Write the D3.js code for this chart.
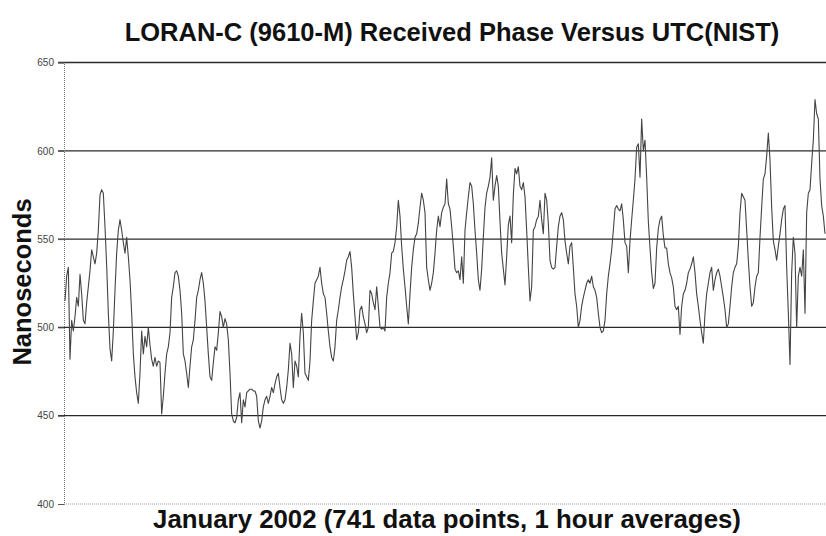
<!DOCTYPE html>
<html>
<head>
<meta charset="utf-8">
<script src="https://cdn.jsdelivr.net/npm/d3@7"></script>
<style>
  body { margin: 0; background: #fff; }
  svg { display: block; font-family: "Liberation Sans", Arial, sans-serif; }
</style>
</head>
<body>
<div id="chart"></div>
<script>
const chartTitle = 'LORAN-C (9610-M) Received Phase Versus UTC(NIST)';
const xTitle = 'January 2002 (741 data points, 1 hour averages)';
const yTitle = 'Nanoseconds';
const yTicks = [400, 450, 500, 550, 600, 650];

// received phase, ns (evenly spaced through the month)
const phase = [
  515, 529, 534, 482, 504, 498, 506, 517, 512, 530, 519, 504, 502, 514, 523, 532, 544, 540, 536, 542,
  555, 575, 578, 576, 557, 535, 508, 488, 481, 498, 521, 542, 555, 561, 555, 548, 542, 551, 540, 527,
  508, 485, 472, 463, 457, 474, 498, 485, 495, 489, 500, 490, 482, 478, 483, 478, 481, 480, 451, 461,
  474, 485, 489, 497, 517, 523, 531, 532, 529, 521, 508, 485, 481, 474, 466, 478, 489, 493, 504, 517,
  521, 527, 531, 525, 515, 500, 485, 472, 470, 480, 489, 487,
  497, 509, 506, 500, 505, 502, 493, 474, 451, 447, 446, 449, 459, 463, 446, 459, 455, 463, 464, 465,
  465, 464, 464, 461, 447, 443, 447, 455, 459, 461, 457, 461, 466, 463, 468, 472, 474, 466, 459, 457,
  459, 466, 476, 491, 485, 466, 481, 478, 472, 495, 508, 497, 474, 472, 470, 481, 504, 515, 525, 527,
  529, 534, 525, 519, 517, 508, 498, 489, 483, 481, 489, 504, 510, 517, 523, 527, 532, 538, 540, 543,
  534, 519, 506, 493, 497, 510, 512, 506, 502, 497, 500,
  521, 519, 514, 510, 523, 512, 500, 499, 500, 498, 517, 525, 531, 542, 543, 548, 557, 572, 563, 546,
  533, 523, 512, 502, 519, 534, 544, 551, 553, 559, 568, 576, 572, 565, 534, 527, 521, 525, 531, 542,
  555, 563, 557, 565, 568, 570, 584, 570, 567, 557, 546, 533, 531, 532, 527, 540, 525, 555, 565, 574,
  582, 580, 570, 555, 542, 527, 521, 533, 551, 568, 576, 580, 585, 596, 572, 580, 586, 580, 560, 542,
  533, 524, 540, 558, 563, 548, 575, 590, 587, 591, 580,
  578, 582, 574, 555, 534, 515, 523, 555, 557, 561, 563, 572, 561, 553, 576, 572, 559, 538, 534, 533,
  534, 546, 557, 563, 565, 561, 549, 542, 536, 546, 548, 534, 519, 512, 500, 504, 512, 517, 521, 525,
  527, 525, 529, 523, 521, 517, 508, 500, 497, 498, 504, 519, 529, 536, 544, 555, 567, 569, 567, 566,
  570, 561, 548, 546, 531, 549, 561, 572, 584, 602, 604, 585, 618, 600, 606, 585, 560, 545, 531, 522,
  525, 545, 556, 561, 563, 552, 545, 545, 536, 531, 528,
  523, 512, 510, 512, 496, 512, 519, 521, 525, 531, 533, 536, 540, 531, 519, 512, 504, 497, 491, 508,
  519, 525, 531, 534, 521, 527, 531, 533, 529, 523, 517, 510, 500, 502, 512, 523, 531, 534, 536, 546,
  565, 576, 574, 572, 555, 538, 523, 512, 514, 523, 529, 531, 551, 568, 584, 587, 597, 610, 595, 568,
  549, 544, 538, 546, 553, 561, 567, 569, 534, 508, 479, 531, 551, 542, 500, 529, 534, 529, 544, 508,
  565, 576, 578, 593, 606, 629, 621, 618, 584, 569, 563, 553
];

const width = 826, height = 536;
const plot = { left: 64, right: 826, top: 62.5, bottom: 504 };

const svg = d3.select('#chart').append('svg')
  .attr('width', width)
  .attr('height', height);

const x = d3.scaleLinear().domain([0, phase.length - 1]).range([plot.left + 1, plot.right - 1]);
const y = d3.scaleLinear().domain([400, 650]).range([plot.bottom, plot.top]);

// horizontal grid lines
svg.append('g')
  .selectAll('line')
  .data(yTicks.filter(d => d !== 400))
  .enter().append('line')
  .attr('x1', plot.left - 6)
  .attr('x2', plot.right)
  .attr('y1', d => y(d))
  .attr('y2', d => y(d))
  .attr('stroke', '#2a2a2a')
  .attr('stroke-width', 1.3);

// bottom edge (light, dotted)
svg.append('line')
  .attr('x1', plot.left)
  .attr('x2', plot.right)
  .attr('y1', y(400))
  .attr('y2', y(400))
  .attr('stroke', '#999')
  .attr('stroke-dasharray', '1,1');

// y axis
const yAxis = svg.append('g')
  .attr('transform', 'translate(' + plot.left + ',0)')
  .call(d3.axisLeft(y).tickValues(yTicks).tickSize(6).tickPadding(4));
yAxis.select('.domain')
  .attr('stroke', '#777')
  .attr('stroke-dasharray', '1,1');
yAxis.selectAll('.tick line').attr('stroke', '#555');
yAxis.selectAll('.tick text')
  .attr('font-size', 10)
  .attr('font-family', '"Liberation Sans", Arial, sans-serif')
  .attr('fill', '#444');

// phase line
const line = d3.line()
  .x((d, i) => x(i))
  .y(d => y(d));
svg.append('path')
  .datum(phase)
  .attr('d', line)
  .attr('fill', 'none')
  .attr('stroke', '#444')
  .attr('stroke-width', 1.1)
  .attr('stroke-linejoin', 'round');

// titles
svg.append('text')
  .attr('x', 452)
  .attr('y', 41)
  .attr('text-anchor', 'middle')
  .attr('font-size', 25.5)
  .attr('font-weight', 'bold')
  .attr('fill', '#111')
  .text(chartTitle);

svg.append('text')
  .attr('x', 447)
  .attr('y', 528)
  .attr('text-anchor', 'middle')
  .attr('font-size', 25.8)
  .attr('font-weight', 'bold')
  .attr('fill', '#111')
  .text(xTitle);

svg.append('text')
  .attr('transform', 'translate(31,' + 282 + ') rotate(-90)')
  .attr('text-anchor', 'middle')
  .attr('font-size', 25.5)
  .attr('font-weight', 'bold')
  .attr('fill', '#111')
  .text(yTitle);
</script>
</body>
</html>
